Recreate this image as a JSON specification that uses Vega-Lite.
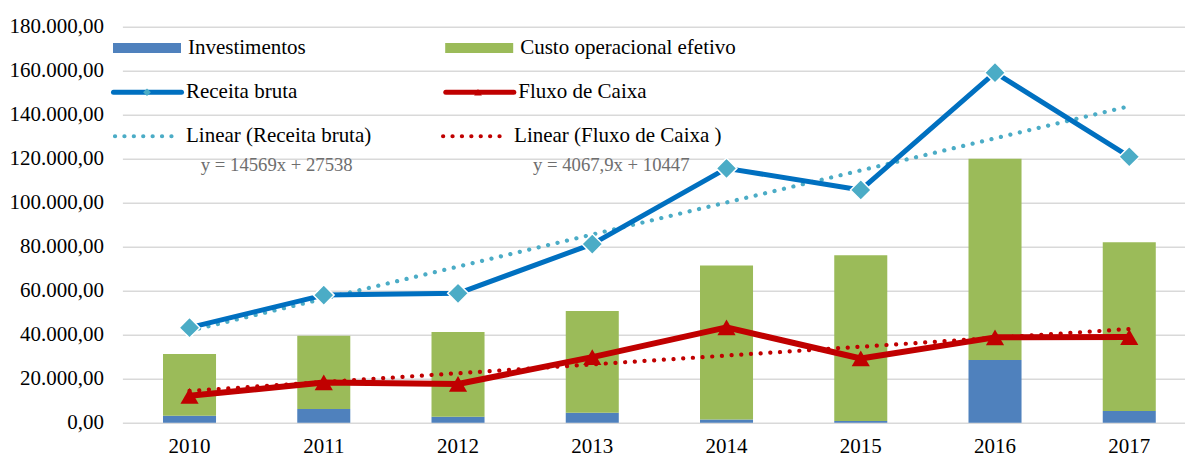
{
  "$schema": "https://vega.github.io/schema/vega-lite/v6.json",
  "width": 1063,
  "height": 396,
  "autosize": {"type": "none"},
  "padding": {"left": 122.4, "top": 26.7, "right": 0, "bottom": 34.3},
  "background": "white",
  "config": {
    "locale": {"number": {"decimal": ",", "thousands": ".", "grouping": [3], "currency": ["R$", ""]}},
    "view": {"stroke": null},
    "font": "Liberation Serif",
    "legend": {"title": null, "padding": 0, "offset": 0, "labelFont": "Liberation Serif", "labelFontSize": 21, "labelColor": "#000000", "labelLimit": 0, "rowPadding": 0}
  },
  "datasets": {
    "barras": [
      {"ano": 2010, "serie": "Investimentos", "valor": 3200},
      {"ano": 2010, "serie": "Custo operacional efetivo", "valor": 28000},
      {"ano": 2011, "serie": "Investimentos", "valor": 6200},
      {"ano": 2011, "serie": "Custo operacional efetivo", "valor": 33300},
      {"ano": 2012, "serie": "Investimentos", "valor": 2700},
      {"ano": 2012, "serie": "Custo operacional efetivo", "valor": 38500},
      {"ano": 2013, "serie": "Investimentos", "valor": 4500},
      {"ano": 2013, "serie": "Custo operacional efetivo", "valor": 46300},
      {"ano": 2014, "serie": "Investimentos", "valor": 1400},
      {"ano": 2014, "serie": "Custo operacional efetivo", "valor": 70000},
      {"ano": 2015, "serie": "Investimentos", "valor": 800},
      {"ano": 2015, "serie": "Custo operacional efetivo", "valor": 75300},
      {"ano": 2016, "serie": "Investimentos", "valor": 28500},
      {"ano": 2016, "serie": "Custo operacional efetivo", "valor": 91500},
      {"ano": 2017, "serie": "Investimentos", "valor": 5300},
      {"ano": 2017, "serie": "Custo operacional efetivo", "valor": 76700}
    ],
    "linhas": [
      {"ano": 2010, "serie": "Receita bruta", "valor": 43200},
      {"ano": 2011, "serie": "Receita bruta", "valor": 58000},
      {"ano": 2012, "serie": "Receita bruta", "valor": 58800},
      {"ano": 2013, "serie": "Receita bruta", "valor": 81200},
      {"ano": 2014, "serie": "Receita bruta", "valor": 115600},
      {"ano": 2015, "serie": "Receita bruta", "valor": 105800},
      {"ano": 2016, "serie": "Receita bruta", "valor": 159100},
      {"ano": 2017, "serie": "Receita bruta", "valor": 120900},
      {"ano": 2010, "serie": "Fluxo de Caixa", "valor": 12200},
      {"ano": 2011, "serie": "Fluxo de Caixa", "valor": 18300},
      {"ano": 2012, "serie": "Fluxo de Caixa", "valor": 17600},
      {"ano": 2013, "serie": "Fluxo de Caixa", "valor": 29800},
      {"ano": 2014, "serie": "Fluxo de Caixa", "valor": 43300},
      {"ano": 2015, "serie": "Fluxo de Caixa", "valor": 29200},
      {"ano": 2016, "serie": "Fluxo de Caixa", "valor": 38800},
      {"ano": 2017, "serie": "Fluxo de Caixa", "valor": 38900}
    ]
  },
  "layer": [
    {
      "data": {"name": "barras"},
      "mark": {"type": "bar", "strokeWidth": 0},
      "encoding": {
        "x": {
          "field": "ano", "type": "ordinal",
          "scale": {"range": [0, 1074], "paddingInner": 0.605, "paddingOuter": 0.3025},
          "axis": {"title": null, "labelAngle": 0, "labelFont": "Liberation Serif", "labelFontSize": 21, "labelColor": "#000000", "labelPadding": 13, "ticks": false, "domain": false, "grid": false}
        },
        "y": {
          "field": "valor", "type": "quantitative", "stack": "zero",
          "scale": {"domain": [0, 180000], "nice": false},
          "axis": {"title": null, "values": [0, 20000, 40000, 60000, 80000, 100000, 120000, 140000, 160000, 180000], "format": ",.2f", "labelFont": "Liberation Serif", "labelFontSize": 21, "labelColor": "#000000", "labelPadding": 19, "ticks": false, "domain": false, "grid": true, "gridColor": "#D9D9D9", "gridWidth": 1.5}
        },
        "fill": {
          "field": "serie", "type": "nominal",
          "scale": {"domain": ["Investimentos", "Custo operacional efetivo"], "range": ["#4F81BD", "#9BBB59"]},
          "legend": {"orient": "none", "legendX": -9.4, "legendY": -12.7, "columns": 2, "columnPadding": 139.2, "labelOffset": 7, "symbolType": "M-1,-0.147H1V0.147H-1Z", "symbolSize": 4624, "symbolStrokeWidth": 0}
        },
        "order": {"field": "serie", "sort": "descending"}
      }
    },
    {
      "data": {"name": "linhas"},
      "transform": [{"regression": "valor", "on": "ano", "groupby": ["serie"]}],
      "mark": {"type": "line", "strokeWidth": 4.2, "strokeDash": [0.1, 9.6], "strokeCap": "round"},
      "encoding": {
        "x": {"field": "ano", "type": "ordinal"},
        "y": {"field": "valor", "type": "quantitative"},
        "stroke": {
          "field": "serie", "type": "nominal",
          "scale": {"domain": ["Receita bruta", "Fluxo de Caixa"], "range": ["#4BACC6", "#C00000"]},
          "legend": {"orient": "none", "legendX": -9.9, "legendY": 76.8, "columns": 2, "columnPadding": 63.1, "labelOffset": 8.5, "symbolType": "stroke", "symbolSize": 3600, "symbolStrokeWidth": 4.2, "symbolDash": [0.1, 9.3], "labelExpr": "datum.label == 'Receita bruta' ? 'Linear (Receita bruta)' : 'Linear (Fluxo de Caixa )'", "encode": {"symbols": {"update": {"strokeCap": {"value": "round"}}}}}
        }
      }
    },
    {
      "data": {"name": "linhas"},
      "mark": {"type": "line", "strokeCap": "round", "strokeJoin": "round"},
      "encoding": {
        "x": {"field": "ano", "type": "ordinal"},
        "y": {"field": "valor", "type": "quantitative"},
        "strokeWidth": {"condition": {"test": "datum.serie == 'Fluxo de Caixa'", "value": 6}, "value": 5},
        "stroke": {
          "field": "serie", "type": "nominal",
          "scale": {"domain": ["Receita bruta", "Fluxo de Caixa"], "range": ["#0070C0", "#C00000"]},
          "legend": {"orient": "none", "legendX": -11.4, "legendY": 28.8, "columns": 2, "columnPadding": 137.3, "labelOffset": 2, "symbolType": "stroke", "symbolSize": 4624, "symbolStrokeWidth": 5, "encode": {"symbols": {"update": {"strokeCap": {"value": "round"}}}}}
        }
      }
    },
    {
      "data": {"name": "linhas"},
      "mark": {"type": "point", "filled": true, "opacity": 1, "stroke": "white", "strokeWidth": 1.5},
      "encoding": {
        "x": {"field": "ano", "type": "ordinal"},
        "y": {"field": "valor", "type": "quantitative"},
        "size": {"condition": {"test": "datum.serie == 'Fluxo de Caixa'", "value": 330}, "value": 430},
        "strokeOpacity": {"condition": {"test": "datum.serie == 'Fluxo de Caixa'", "value": 0}, "value": 1},
        "shape": {
          "field": "serie", "type": "nominal",
          "scale": {"domain": ["Receita bruta", "Fluxo de Caixa"], "range": ["diamond", "triangle-up"]},
          "legend": {"orient": "none", "legendX": 14.1, "legendY": 54.8, "columns": 2, "columnPadding": 310, "labelOffset": 0, "labelExpr": "''", "symbolSize": 60, "symbolStrokeWidth": 0}
        },
        "fill": {
          "field": "serie", "type": "nominal",
          "scale": {"domain": ["Receita bruta", "Fluxo de Caixa"], "range": ["#4BACC6", "#C00000"]},
          "legend": {"orient": "none", "legendX": 14.1, "legendY": 54.8, "columns": 2, "columnPadding": 310, "labelOffset": 0, "labelExpr": "''", "symbolSize": 60, "symbolStrokeWidth": 0}
        }
      }
    },
    {
      "data": {"values": [{"ano": 2011, "valor": 117000, "texto": "y = 14569x + 27538"}]},
      "mark": {"type": "text", "font": "Liberation Serif", "fontSize": 18.7, "color": "#6E6E6E", "align": "center", "baseline": "middle", "dx": -47},
      "encoding": {
        "x": {"field": "ano", "type": "ordinal"},
        "y": {"field": "valor", "type": "quantitative"},
        "text": {"field": "texto"}
      }
    },
    {
      "data": {"values": [{"ano": 2013, "valor": 117300, "texto": "y = 4067,9x + 10447"}]},
      "mark": {"type": "text", "font": "Liberation Serif", "fontSize": 18.7, "color": "#6E6E6E", "align": "center", "baseline": "middle", "dx": 19},
      "encoding": {
        "x": {"field": "ano", "type": "ordinal"},
        "y": {"field": "valor", "type": "quantitative"},
        "text": {"field": "texto"}
      }
    }
  ],
  "resolve": {"scale": {"fill": "independent", "stroke": "independent", "shape": "independent"}}
}
